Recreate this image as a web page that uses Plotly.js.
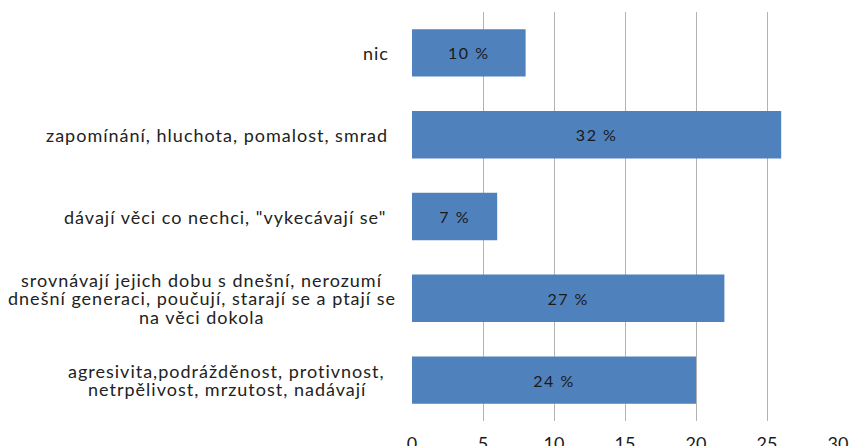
<!DOCTYPE html>
<html><head><meta charset="utf-8">
<script src="https://cdn.plot.ly/plotly-3.0.1.min.js"></script>
<style>
html,body{margin:0;padding:0;background:#fff}#chart{width:849px;height:446px}
.annotation-text{letter-spacing:1px}
.bartext{letter-spacing:1.5px}
</style>
</head><body><div id="chart"></div>
<script>
var categories = ["nic", "zapomínání, hluchota, pomalost, smrad", "dávají věci co nechci, \"vykecávají se\"", "srovnávají jejich dobu s dnešní, nerozumí<br>dnešní generaci, poučují, starají se a ptají se<br>na věci dokola", "agresivita,podrážděnost, protivnost,<br>netrpělivost, mrzutost, nadávají"];
var keys = ["nic", "zapominani", "davaji", "srovnavaji", "agresivita"];
var values = [8, 26, 6, 22, 20];
var percentLabels = ["10 %", "32 %", "7 %", "27 %", "24 %"];
var xTicks = [0, 5, 10, 15, 20, 25, 30];

var FONT = "Lato";
var LABEL_GAP = [21, 22, 24, 14, 25]; // px between each label block and the axis (layout only)
var trace = {
  type: "bar", orientation: "h",
  y: keys, x: values,
  text: percentLabels, textposition: "inside", insidetextanchor: "middle",
  textfont: {family: FONT, size: 16, color: "#1a1a1a"},
  marker: {color: "#4f81bd", line: {color: "#4f81bd", width: 0}},
  hoverinfo: "none"
};
var annotations = [];
var LINE_H = 18.5;
keys.forEach(function(k, i){
  var lines = categories[i].split("<br>");
  var n = lines.length;
  lines.forEach(function(line, j){
    annotations.push({xref: "paper", yref: "y", x: 0, y: k, xanchor: "right", yanchor: "middle",
      xshift: -LABEL_GAP[i], yshift: -((j - (n - 1) / 2) * LINE_H), text: line, showarrow: false,
      font: {family: FONT, size: 18, color: "#222"}});
  });
});
var layout = {
  width: 849, height: 446,
  margin: {l: 412, r: 11, t: 12, b: 25, pad: 0},
  paper_bgcolor: "#fff", plot_bgcolor: "#fff",
  showlegend: false, bargap: 0.42,
  xaxis: {range: [0, 30], tickvals: xTicks, ticktext: xTicks.map(String),
    showgrid: true, gridcolor: "#b3b3b3", gridwidth: 1, zeroline: false,
    showline: false, ticks: "", ticklabelstandoff: 10,
    tickfont: {family: FONT, size: 18, color: "#1a1a1a"}, fixedrange: true},
  yaxis: {type: "category", autorange: "reversed", showticklabels: false,
    showgrid: false, zeroline: false, showline: false, ticks: "", fixedrange: true},
  annotations: annotations,
  font: {family: FONT}
};
var gd = document.getElementById("chart");
Plotly.newPlot(gd, [trace], layout, {displayModeBar: false, staticPlot: true}).then(function(){
  // center lines of each multi-line block on each other
  var nodes = gd.querySelectorAll(".annotation-text");
  var widths = [];
  nodes.forEach(function(t){ widths.push(t.getBBox().width); });
  var idx = 0, upd = {};
  keys.forEach(function(k, i){
    var n = categories[i].split("<br>").length;
    var maxW = 0, j;
    for (j = 0; j < n; j++) maxW = Math.max(maxW, widths[idx + j]);
    for (j = 0; j < n; j++) upd["annotations[" + (idx + j) + "].xshift"] = -LABEL_GAP[i] - (maxW - widths[idx + j]) / 2;
    idx += n;
  });
  return Plotly.relayout(gd, upd);
});
</script></body></html>
